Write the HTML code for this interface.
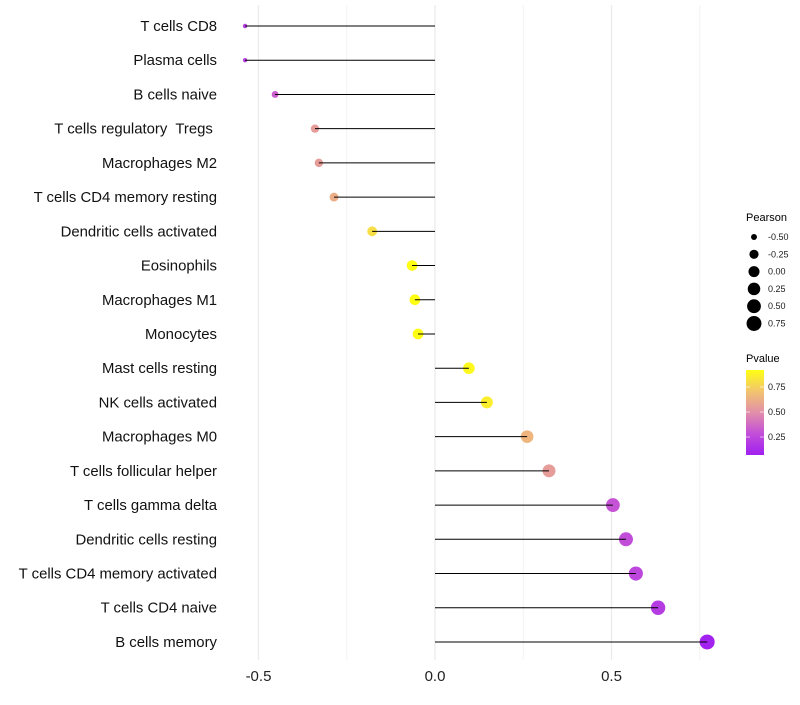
<!DOCTYPE html>
<html><head><meta charset="utf-8"><style>
body{margin:0;background:#fff;font-family:"Liberation Sans",sans-serif}
svg text{font-family:"Liberation Sans",sans-serif;white-space:pre}
</style></head><body>
<svg id="chart" width="800" height="700"></svg>
<script>
const categories=["T cells CD8","Plasma cells","B cells naive","T cells regulatory  Tregs ","Macrophages M2","T cells CD4 memory resting","Dendritic cells activated","Eosinophils","Macrophages M1","Monocytes","Mast cells resting","NK cells activated","Macrophages M0","T cells follicular helper","T cells gamma delta","Dendritic cells resting","T cells CD4 memory activated","T cells CD4 naive","B cells memory"];
const pearson=[-0.538,-0.538,-0.453,-0.34,-0.329,-0.286,-0.178,-0.065,-0.057,-0.048,0.096,0.147,0.261,0.323,0.504,0.541,0.569,0.632,0.771];
const pvalue=[0.22,0.22,0.33,0.55,0.55,0.62,0.8,0.95,0.95,0.94,0.9,0.86,0.65,0.55,0.3,0.28,0.25,0.2,0.08];
const xTicks=[-0.5,0,0.5];
const xTickLabels=["-0.5","0.0","0.5"];
const minorTicks=[-0.25,0.25,0.75];
const sizeLegend=[-0.5,-0.25,0,0.25,0.5,0.75];
const sizeLegendLabels=["-0.50","-0.25","0.00","0.25","0.50","0.75"];
const colorLegend=[0.75,0.5,0.25];

const NS="http://www.w3.org/2000/svg";
const svg=document.getElementById('chart');
function el(t,a,p){const e=document.createElementNS(NS,t);for(const k in a)e.setAttribute(k,a[k]);(p||svg).appendChild(e);return e;}
const x=v=>435+v*353;
const y=i=>26+i*34.22;
const rad=v=>2+5.5*Math.sqrt(Math.max(0,(v+0.54)/1.31));
const stops=[[0,[160,32,240]],[0.25,[194,78,217]],[0.5,[226,143,170]],[0.75,[242,196,110]],[1,[255,255,20]]];
const pMin=0.07,pMax=0.92;
function col(p){let t=(p-pMin)/(pMax-pMin);t=Math.max(0,Math.min(1,t));for(let i=1;i<stops.length;i++){if(t<=stops[i][0]){const a=stops[i-1],b=stops[i];const f=(t-a[0])/(b[0]-a[0]);const c=a[1].map((v,k)=>Math.round(v+(b[1][k]-v)*f));return `rgb(${c})`;}}return 'rgb(255,255,20)';}

minorTicks.forEach(v=>{const l=el('line',{x1:x(v),x2:x(v),y1:5,y2:660,stroke:'#f2f2f2','stroke-width':1});

});
xTicks.forEach((v,i)=>{const l=el('line',{x1:x(v),x2:x(v),y1:5,y2:660,stroke:'#ebebeb','stroke-width':1.3});


const t=el('text',{x:x(v),y:681,'text-anchor':'middle','font-size':15,fill:'#222'});t.textContent=xTickLabels[i];

});

categories.forEach((c,i)=>{
 const t=el('text',{x:217,y:y(i)+5,'text-anchor':'end','font-size':14.9,fill:'#111'});t.textContent=c;
 
 
 const p=el('circle',{cx:x(pearson[i]),cy:y(i),r:rad(pearson[i]),fill:col(pvalue[i])});
 
 
 const l=el('line',{x1:x(0),x2:x(pearson[i]),y1:y(i),y2:y(i),stroke:'#000','stroke-width':1});
 
 
});

const st=el('text',{x:746,y:221,'font-size':11,fill:'#000'});st.textContent='Pearson';


sizeLegend.forEach((v,i)=>{const cy=237+i*17.3;
 const c=el('circle',{cx:754,cy:cy,r:rad(v),fill:'#000'});
 
 
 const t=el('text',{x:768,y:cy+3,'font-size':9,fill:'#1a1a1a'});t.textContent=sizeLegendLabels[i];
 
 });

const ct=el('text',{x:746,y:362,'font-size':11,fill:'#000'});ct.textContent='Pvalue';


const defs=el('defs',{});const g=el('linearGradient',{id:'pg',x1:0,y1:1,x2:0,y2:0},defs);
stops.forEach(s=>el('stop',{offset:s[0],'stop-color':`rgb(${s[1]})`},g));
const bar=el('rect',{x:746,y:370,width:18,height:85,fill:'url(#pg)'});


const ly=p=>455-(p-pMin)/(pMax-pMin)*85;
colorLegend.forEach(v=>{
 el('line',{x1:746,x2:750,y1:ly(v),y2:ly(v),stroke:'#fff','stroke-width':0.6});
 el('line',{x1:760,x2:764,y1:ly(v),y2:ly(v),stroke:'#fff','stroke-width':0.6});
 const t=el('text',{x:768,y:ly(v)+3,'font-size':9,fill:'#1a1a1a'});t.textContent=v.toFixed(2);
 
 });
</script>
</body></html>
